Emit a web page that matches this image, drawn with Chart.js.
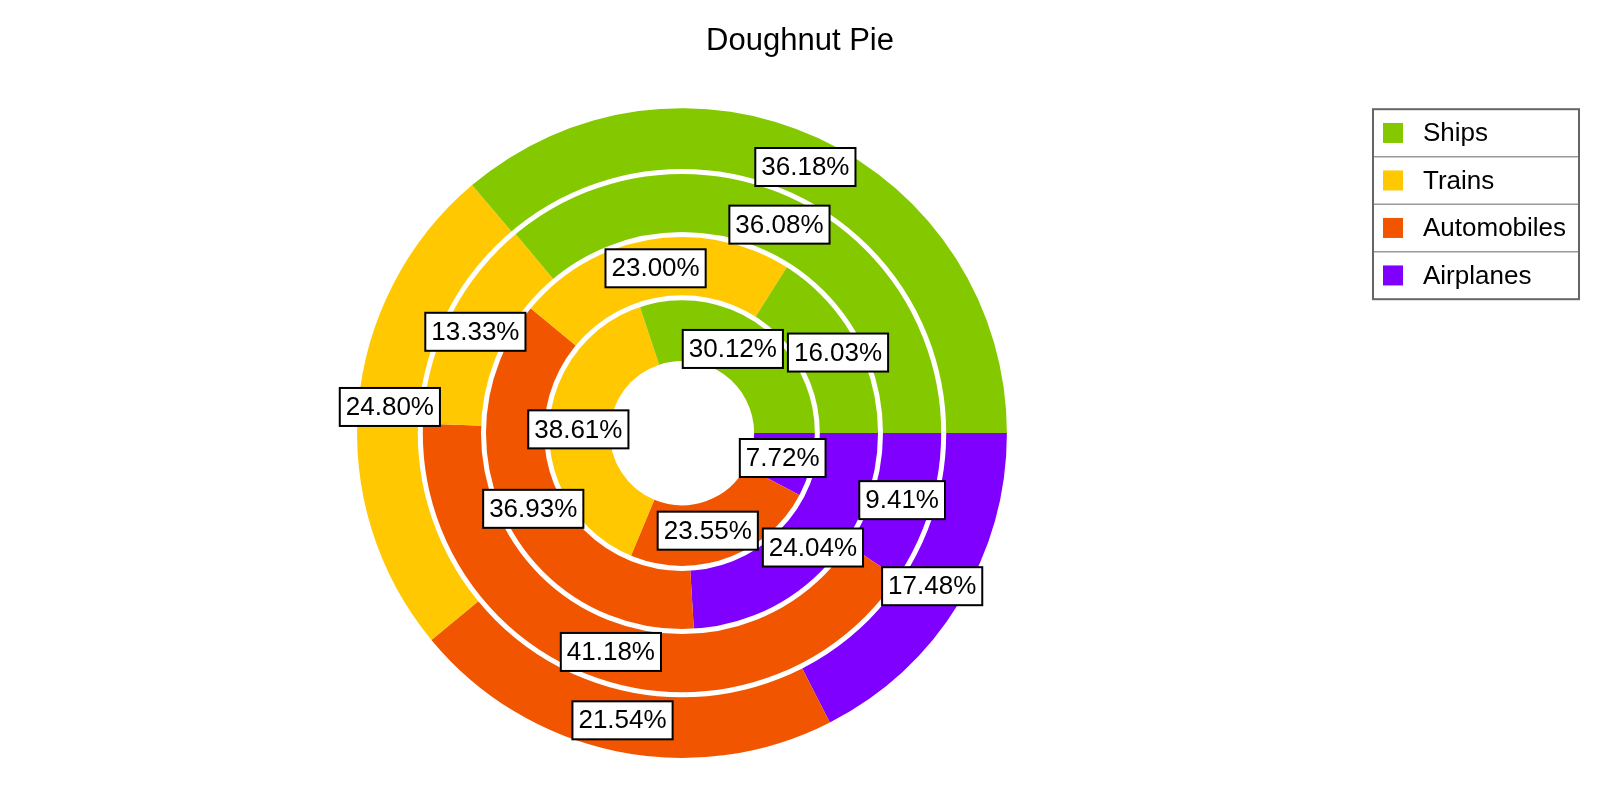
<!DOCTYPE html>
<html>
<head>
<meta charset="utf-8">
<script src="https://cdn.jsdelivr.net/npm/chart.js@4/dist/chart.umd.min.js"></script>
<style>
  html, body { margin: 0; padding: 0; background: #fff; }
  #wrap { width: 1600px; height: 800px; position: relative; }
</style>
</head>
<body>
<div id="wrap"><canvas id="pieChart"></canvas></div>
<script>
// categories and ring values, outer ring first
const categories = ["Ships", "Trains", "Automobiles", "Airplanes"];
const ring1 = [36.18, 24.80, 21.54, 17.48];
const ring2 = [36.08, 13.33, 41.18, 9.41];
const ring3 = [16.03, 23.00, 36.93, 24.04];
const ring4 = [30.12, 38.61, 23.55, 7.72];
const colors = ["#84c800", "#ffc800", "#f25500", "#7f00ff"];

const FONT = "'Liberation Sans', Arial, sans-serif";
Chart.defaults.font.family = FONT;

// reference runs counter-clockwise from 3 o'clock; chart.js runs clockwise,
// so feed the slices in reverse order and start at 90deg
function rev(a){
    return a.slice().reverse();
}

// white circles between the rings
const ringGaps = {
    id: "ringGaps",
    afterDatasetsDraw(chart){
        const ctx = chart.ctx;
        ctx.save();
        ctx.strokeStyle = "#ffffff";
        ctx.lineWidth = 5;
        for (let i = 1; i < chart.data.datasets.length; i++){
            const meta = chart.getDatasetMeta(i);
            const arc = meta.data[0];
            ctx.beginPath();
            ctx.arc(arc.x, arc.y, meta.controller.outerRadius, 0, Math.PI * 2);
            ctx.stroke();
        }
        ctx.restore();
    }
};

// boxed percentage labels at the middle of every slice
const sliceLabels = {
    id: "sliceLabels",
    afterDatasetsDraw(chart){
        const ctx = chart.ctx;
        ctx.save();
        ctx.font = "26px " + FONT;
        const boxes = [];
        chart.data.datasets.forEach((ds, di) => {
            const meta = chart.getDatasetMeta(di);
            const total = ds.data.reduce((s, v) => s + v, 0);
            meta.data.forEach((arc, j) => {
                const p = arc.getCenterPoint();
                const text = (ds.data[j] / total * 100).toFixed(2) + "%";
                const w = ctx.measureText(text).width + 12;
                boxes.push({ text: text, x: p.x, y: p.y, w: w, h: 38 });
            });
        });
        // push overlapping boxes apart
        const gap = 5;
        for (let k = 0; k < 40; k++){
            let moved = false;
            for (let a = 0; a < boxes.length; a++){
                for (let b = a + 1; b < boxes.length; b++){
                    const A = boxes[a], B = boxes[b];
                    const ox = (A.w + B.w) / 2 + gap - Math.abs(A.x - B.x);
                    const oy = (A.h + B.h) / 2 + gap - Math.abs(A.y - B.y);
                    if (ox > 0 && oy > 0){
                        moved = true;
                        if (ox < oy){
                            const d = B.x >= A.x ? 1 : -1;
                            A.x -= d * ox / 2;
                            B.x += d * ox / 2;
                        } else {
                            const d = B.y >= A.y ? 1 : -1;
                            A.y -= d * oy / 2;
                            B.y += d * oy / 2;
                        }
                    }
                }
            }
            if (!moved) break;
        }
        ctx.textAlign = "center";
        ctx.textBaseline = "middle";
        boxes.forEach(b => {
            ctx.fillStyle = "#ffffff";
            ctx.fillRect(b.x - b.w / 2, b.y - b.h / 2, b.w, b.h);
            ctx.strokeStyle = "#000000";
            ctx.lineWidth = 2;
            ctx.strokeRect(b.x - b.w / 2, b.y - b.h / 2, b.w, b.h);
            ctx.fillStyle = "#000000";
            ctx.fillText(b.text, b.x, b.y + 1);
        });
        ctx.restore();
    }
};

// legend as a layout box on the right, drawn as a bordered table
const tableLegend = {
    id: "tableLegend",
    beforeInit(chart){
        const box = {
            position: "right",
            weight: 10,
            fullSize: false,
            options: {},
            width: 0, height: 0, left: 0, top: 0, right: 0, bottom: 0,
            isHorizontal(){ return false; },
            update(maxWidth, maxHeight){
                this.width = 236;
                this.height = maxHeight;
            },
            draw(){
                const ctx = chart.ctx;
                const x0 = this.left + 9;
                const y0 = this.top + 1;
                const w = 206;
                const rowH = 47.5;
                ctx.save();
                ctx.font = "26px " + FONT;
                ctx.textBaseline = "middle";
                ctx.textAlign = "left";
                categories.forEach((name, i) => {
                    const cy = y0 + rowH * i + rowH / 2;
                    ctx.fillStyle = colors[i];
                    ctx.fillRect(x0 + 10, cy - 10, 20, 20);
                    ctx.fillStyle = "#000000";
                    ctx.fillText(name, x0 + 50, cy + 1);
                    if (i > 0){
                        ctx.strokeStyle = "#9a9a9a";
                        ctx.lineWidth = 1.5;
                        ctx.beginPath();
                        ctx.moveTo(x0, y0 + rowH * i);
                        ctx.lineTo(x0 + w, y0 + rowH * i);
                        ctx.stroke();
                    }
                });
                ctx.strokeStyle = "#666666";
                ctx.lineWidth = 2;
                ctx.strokeRect(x0, y0, w, rowH * categories.length);
                ctx.restore();
            }
        };
        if (Chart.layouts && Chart.layouts.addBox){
            Chart.layouts.addBox(chart, box);
        } else {
            box._layers = () => [{ z: 0, draw(){ box.draw(); } }];
            chart.boxes.push(box);
        }
    }
};

function ringDataset(values){
    return {
        data: rev(values),
        backgroundColor: rev(colors),
        borderWidth: 0
    };
}

new Chart(
    document.getElementById("pieChart"),
    {
        type: "doughnut",
        data: {
            labels: rev(categories),
            datasets: [
                ringDataset(ring1),
                ringDataset(ring2),
                ringDataset(ring3),
                ringDataset(ring4)
            ]
        },
        options: {
            responsive: true,
            maintainAspectRatio: false,
            animation: false,
            events: [],
            rotation: 90,
            cutout: "22.2%",
            layout: {
                padding: { top: 0, bottom: 42, left: 0, right: 0 }
            },
            plugins: {
                legend: { display: false },
                tooltip: { enabled: false },
                title: {
                    display: true,
                    text: "Doughnut Pie",
                    color: "#000000",
                    font: { size: 31, weight: "normal", family: FONT },
                    padding: { top: 23, bottom: 48 }
                }
            }
        },
        plugins: [ringGaps, sliceLabels, tableLegend]
    }
);
</script>
</body>
</html>
